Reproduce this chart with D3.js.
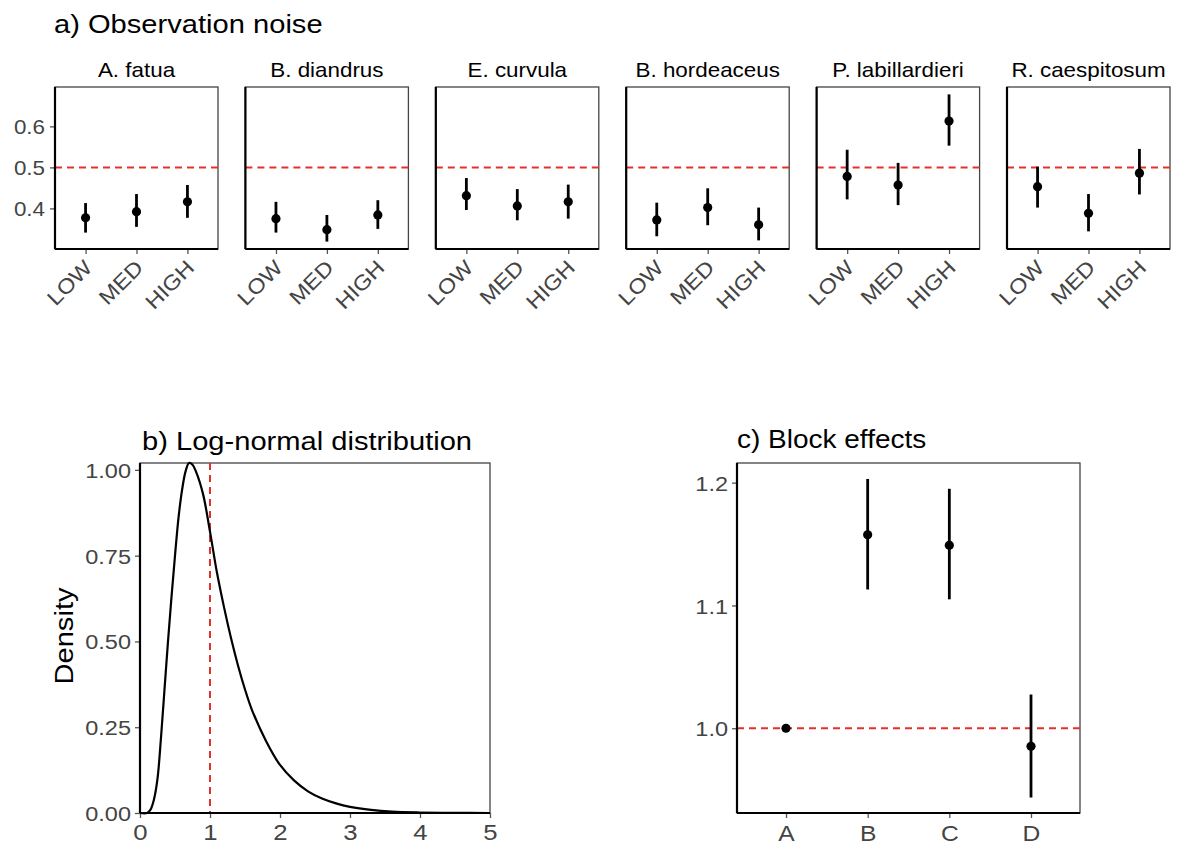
<!DOCTYPE html>
<html><head><meta charset="utf-8">
<script src="https://cdn.jsdelivr.net/npm/d3@7"></script>
<style>body{margin:0;background:#fff}svg{display:block}text{font-family:"Liberation Sans",Arial,sans-serif}</style>
</head><body>
<svg id="c" width="1184" height="846"></svg>
<script>
// ---------- data ----------
const species = ["A. fatua","B. diandrus","E. curvula","B. hordeaceus","P. labillardieri","R. caespitosum"];
const noiseLevels = ["LOW","MED","HIGH"];
const noiseMean  = [[0.377,0.392,0.416],[0.375,0.348,0.384],[0.431,0.406,0.416],[0.372,0.402,0.360],[0.478,0.457,0.613],[0.453,0.388,0.486]];
const noiseLower = [[0.341,0.355,0.377],[0.341,0.319,0.350],[0.396,0.371,0.375],[0.332,0.359,0.322],[0.422,0.408,0.553],[0.402,0.344,0.434]];
const noiseUpper = [[0.413,0.435,0.457],[0.416,0.384,0.420],[0.474,0.447,0.458],[0.414,0.449,0.402],[0.543,0.511,0.678],[0.502,0.435,0.545]];
const noiseTicks = [0.4,0.5,0.6];
const noiseRef = 0.5;

const densityX = [0,0.10,0.15,0.20,0.25,0.30,0.35,0.40,0.45,0.50,0.55,0.60,0.65,0.70,0.75,0.80,0.90,1.00,1.10,1.20,1.30,1.40,1.50,1.60,1.80,2.00,2.20,2.40,2.60,2.80,3.00,3.30,3.60,4.00,4.50,5.00];
const densityY = [0,0.0,0.01,0.04,0.10,0.22,0.36,0.50,0.63,0.75,0.86,0.94,0.995,1.02,1.015,0.995,0.93,0.82,0.70,0.60,0.51,0.43,0.36,0.30,0.21,0.14,0.095,0.063,0.042,0.028,0.018,0.009,0.004,0.0015,0.0003,0];
const densityXTicks = [0,1,2,3,4,5];
const densityYTicks = [0,0.25,0.5,0.75,1.0];
const densityRef = 1;

const blocks = ["A","B","C","D"];
const blockMean  = [1.0,1.1575,1.149,0.9853];
const blockLower = [1.0,1.113,1.105,0.9436];
const blockUpper = [1.0,1.203,1.195,1.0275];
const blockTicks = [1.0,1.1,1.2];
const blockRef = 1.0;

// ---------- helpers ----------
const SX = 1.12;
const svg = d3.select("#c");
const RED = "#e3302a";
function txt(g, x, y, s, size, opts={}) {
  const rot = opts.rotate || 0;
  return g.append("text")
    .attr("transform", `translate(${x},${y}) rotate(${rot}) scale(${SX},1)`)
    .attr("font-size", size)
    .attr("text-anchor", opts.anchor || "start")
    .attr("fill", opts.fill || "#000")
    .text(s);
}
function frame(g, x0, y0, w, h) {
  g.append("rect").attr("x", x0).attr("y", y0).attr("width", w).attr("height", h)
    .attr("fill", "none").attr("stroke", "#444").attr("stroke-width", 1.3);
}
function styleAxis(sel) {
  sel.select(".domain").remove();
  sel.selectAll(".tick line").attr("stroke", "#555").attr("stroke-width", 1.3);
}
function leftAxis(g, scale, x0, ticks, fmt, size, pad) {
  const a = g.append("g").attr("transform", `translate(${x0},0)`)
    .call(d3.axisLeft(scale).tickValues(ticks).tickFormat(fmt).tickSize(5));
  styleAxis(a);
  a.selectAll(".tick text").attr("x", null).attr("dy", "0.36em")
    .attr("font-size", size).attr("fill", "#444")
    .attr("transform", `translate(${-pad},0) scale(${SX},1)`);
  return a;
}
function bottomAxis(g, scale, y0, ticks, fmt, size, pad) {
  const a = g.append("g").attr("transform", `translate(0,${y0})`)
    .call(d3.axisBottom(scale).tickValues(ticks).tickFormat(fmt).tickSize(5));
  styleAxis(a);
  a.selectAll(".tick text").attr("y", null).attr("dy", null)
    .attr("font-size", size).attr("fill", "#444")
    .attr("transform", `translate(0,${pad}) scale(${SX},1)`);
  return a;
}
function axisLines(g, x0, y0, x1, y1) {
  g.append("line").attr("x1", x0).attr("x2", x1).attr("y1", y1).attr("y2", y1).attr("stroke", "#000").attr("stroke-width", 2.2);
  g.append("line").attr("x1", x0).attr("x2", x0).attr("y1", y0).attr("y2", y1).attr("stroke", "#000").attr("stroke-width", 2.2);
}

// ---------- panel a ----------
const ga = svg.append("g");
txt(ga, 54, 33, "a) Observation noise", 26);
const aTop = 87, aBot = 249, aW = 163, aLeft0 = 55, aStep = 190.4;
const yA = d3.scaleLinear().domain([0.301, 0.696]).range([aBot, aTop]);
species.forEach((sp, i) => {
  const x0 = aLeft0 + i * aStep;
  const g = ga.append("g");
  const xA = d3.scalePoint().domain(noiseLevels).range([x0, x0 + aW]).padding(0.6);
  frame(g, x0, aTop, aW, aBot - aTop);
  txt(g, x0 + aW / 2, 77, sp, 20, {anchor: "middle"});
  g.append("line").attr("x1", x0).attr("x2", x0 + aW).attr("y1", yA(noiseRef)).attr("y2", yA(noiseRef))
    .attr("stroke", RED).attr("stroke-width", 2).attr("stroke-dasharray", "7,5");
  noiseLevels.forEach((lv, j) => {
    g.append("line").attr("x1", xA(lv)).attr("x2", xA(lv))
      .attr("y1", yA(noiseLower[i][j])).attr("y2", yA(noiseUpper[i][j]))
      .attr("stroke", "#000").attr("stroke-width", 2.8);
    g.append("circle").attr("cx", xA(lv)).attr("cy", yA(noiseMean[i][j])).attr("r", 4.6).attr("fill", "#000");
  });
  const ax = g.append("g").attr("transform", `translate(0,${aBot})`)
    .call(d3.axisBottom(xA).tickSize(5).tickFormat(""));
  styleAxis(ax);
  noiseLevels.forEach(lv => {
    txt(g, xA(lv) + 8, 269, lv, 21, {anchor: "end", rotate: -45, fill: "#444"});
  });
  if (i === 0) leftAxis(g, yA, x0, noiseTicks, d3.format(".1f"), 20, 10);
  axisLines(g, x0, aTop, x0 + aW, aBot);
});

// ---------- panel b ----------
const gb = svg.append("g");
const bL = 140, bR = 490, bT = 463, bB = 813;
const xB = d3.scaleLinear().domain([0, 5]).range([bL, bR]);
const yB = d3.scaleLinear().domain([0, 1.02]).range([bB, bT]);
txt(gb, 142, 450, "b) Log-normal distribution", 26);
frame(gb, bL, bT, bR - bL, bB - bT);
gb.append("line").attr("x1", xB(densityRef)).attr("x2", xB(densityRef)).attr("y1", bT).attr("y2", bB)
  .attr("stroke", RED).attr("stroke-width", 2).attr("stroke-dasharray", "7,5");
const dPts = densityX.map((x, i) => [x, densityY[i]]);
gb.append("path").datum(dPts)
  .attr("d", d3.line().x(d => xB(d[0])).y(d => yB(d[1])).curve(d3.curveCatmullRom.alpha(0.5)))
  .attr("fill", "none").attr("stroke", "#000").attr("stroke-width", 2.2);
leftAxis(gb, yB, bL, densityYTicks, d3.format(".2f"), 21, 9);
bottomAxis(gb, xB, bB, densityXTicks, d3.format("d"), 23, 27);
axisLines(gb, bL, bT, bR, bB);
txt(gb, 73, 636, "Density", 26, {anchor: "middle", rotate: -90});

// ---------- panel c ----------
const gc = svg.append("g");
const cL = 737, cR = 1080, cT = 463, cB = 813;
const xC = d3.scalePoint().domain(blocks).range([cL, cR]).padding(0.6);
const yC = d3.scaleLinear().domain([0.931, 1.216]).range([cB, cT]);
txt(gc, 737, 448, "c) Block effects", 25);
frame(gc, cL, cT, cR - cL, cB - cT);
gc.append("line").attr("x1", cL).attr("x2", cR).attr("y1", yC(blockRef)).attr("y2", yC(blockRef))
  .attr("stroke", RED).attr("stroke-width", 2).attr("stroke-dasharray", "7,5");
blocks.forEach((b, j) => {
  gc.append("line").attr("x1", xC(b)).attr("x2", xC(b))
    .attr("y1", yC(blockLower[j])).attr("y2", yC(blockUpper[j]))
    .attr("stroke", "#000").attr("stroke-width", 2.8);
  gc.append("circle").attr("cx", xC(b)).attr("cy", yC(blockMean[j])).attr("r", 4.6).attr("fill", "#000");
});
leftAxis(gc, yC, cL, blockTicks, d3.format(".1f"), 21, 9);
bottomAxis(gc, xC, cB, blocks, d => d, 22, 28);
axisLines(gc, cL, cT, cR, cB);
</script>
</body></html>
